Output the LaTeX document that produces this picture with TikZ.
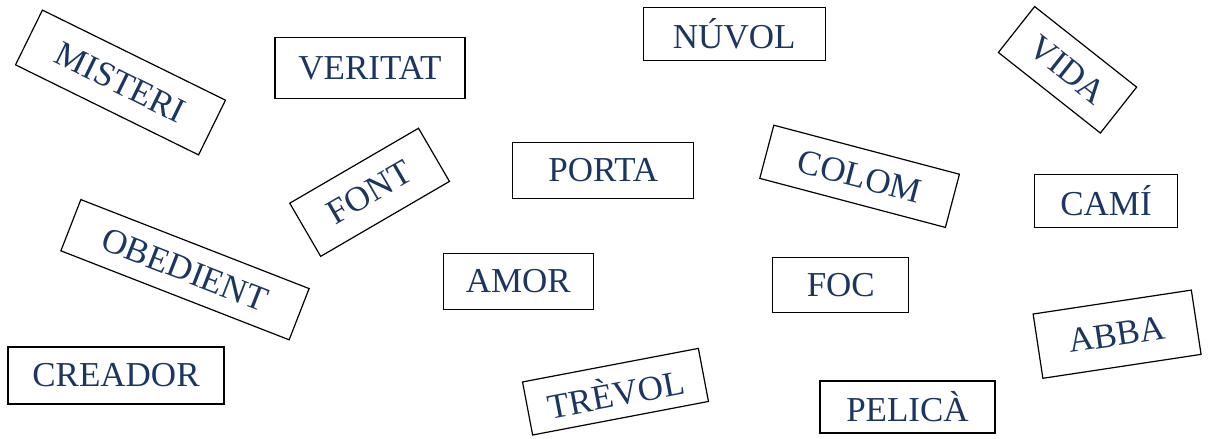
\documentclass[tikz,border=0pt]{standalone}
\usepackage{fontspec}
\setmainfont{Liberation Serif}
\definecolor{wordblue}{RGB}{28,54,98}
\begin{document}
\begin{tikzpicture}[x=1pt,y=-1pt,
	word/.style={draw=black,line width=1.2pt,inner sep=0pt,text=wordblue,font=\fontsize{35}{40}\selectfont}]
	\useasboundingbox (0,0) rectangle (1210,439);
	% tilted cards: rotate is in degrees, negative turns clockwise
	\node[word,minimum width=204pt,minimum height=61pt,rotate=-26.2] (misteri) at (120.5,82.5) {MISTERI};
	\node[word,minimum width=130pt,minimum height=58.5pt,rotate=-38.3] (vida) at (1067.5,69.8) {VIDA};
	\node[word,minimum width=149pt,minimum height=61.5pt,rotate=30.2] (font) at (369.6,192.3) {FONT};
	\node[word,minimum width=192pt,minimum height=55pt,rotate=-14.8] (colom) at (859.6,176.3) {COLOM};
	\node[word,minimum width=245pt,minimum height=55pt,rotate=-21.3] (obedient) at (185,269.7) {OBEDIENT};
	\node[word,minimum width=160pt,minimum height=65pt,rotate=8.6] (abba) at (1117.1,334.2) {ABBA};
	\node[word,minimum width=179pt,minimum height=54pt,rotate=10.8] (trevol) at (615.5,391.7) {TRÈVOL};
	% straight cards
	\node[word,minimum width=190pt,minimum height=61pt] (veritat) at (369.9,67.8) {VERITAT};
	\node[word,minimum width=182pt,minimum height=53pt] (nuvol) at (734.2,34) {NÚVOL};
	\node[word,minimum width=181pt,minimum height=56pt] (porta) at (603.3,170.3) {PORTA};
	\node[word,minimum width=150pt,minimum height=56pt] (amor) at (518.3,281.3) {AMOR};
	\node[word,minimum width=143pt,minimum height=53pt] (cami) at (1106,200.8) {CAMÍ};
	\node[word,minimum width=136pt,minimum height=55pt] (foc) at (840.8,285) {FOC};
	\node[word,minimum width=216pt,minimum height=57pt] (creador) at (116,375.5) {CREADOR};
	\node[word,minimum width=175pt,minimum height=52pt] (pelica) at (907.5,407) {PELICÀ};
\end{tikzpicture}
\end{document}
